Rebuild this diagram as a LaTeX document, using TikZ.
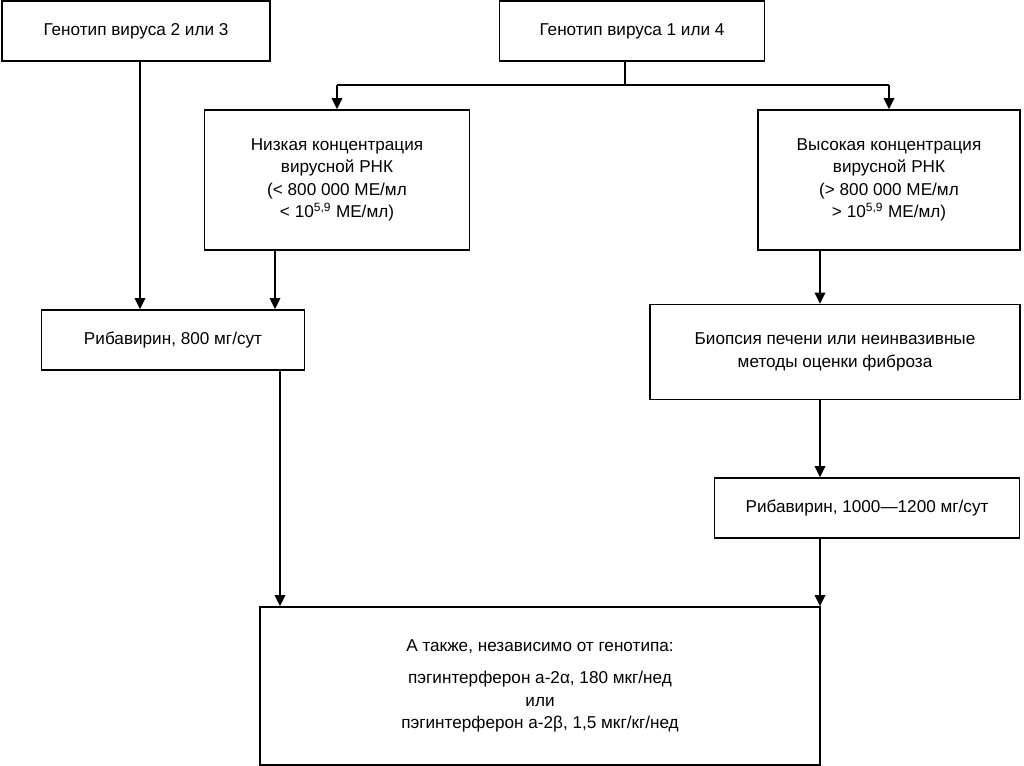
\documentclass[tikz,border=0pt]{standalone}
\usepackage{fontspec}
\setmainfont{Liberation Sans}
\usetikzlibrary{arrows.meta, positioning, calc}

\begin{document}
\begin{tikzpicture}[
    x=0.025cm, y=-0.025cm,
    box/.style={rectangle, draw, line width=1pt, align=center, font=\fontsize{12.2}{16}\selectfont, inner sep=0pt},
    arrow/.style={-{Triangle[length=8pt,width=7.5pt]}, line width=1.1pt}
]
\useasboundingbox (0,0) rectangle (1024,765);

\node[box, minimum width=268*0.025cm, minimum height=60*0.025cm] (geno23) at (136,31) {Генотип вируса 2 или 3};
\node[box, minimum width=265*0.025cm, minimum height=60*0.025cm] (geno14) at (632,31) {Генотип вируса 1 или 4};
\node[box, minimum width=265*0.025cm, minimum height=140*0.025cm] (low) at (337,180)
    {Низкая концентрация\\вирусной РНК\\(< 800 000 МЕ/мл\\< 10\textsuperscript{5,9} МЕ/мл)};
\node[box, minimum width=262*0.025cm, minimum height=140*0.025cm] (high) at (889,180)
    {Высокая концентрация\\вирусной РНК\\(> 800 000 МЕ/мл\\> 10\textsuperscript{5,9} МЕ/мл)};
\node[box, minimum width=263*0.025cm, minimum height=60*0.025cm] (riba800) at (173,340) {Рибавирин, 800 мг/сут};
\node[box, minimum width=370*0.025cm, minimum height=95*0.025cm] (biopsy) at (835,352)
    {Биопсия печени или неинвазивные\\методы оценки фиброза};
\node[box, minimum width=305*0.025cm, minimum height=60*0.025cm] (riba1000) at (867,508) {Рибавирин, 1000---1200 мг/сут};
\node[box, minimum width=560*0.025cm, minimum height=158*0.025cm] (common) at (540,686)
    {А также, независимо от генотипа:\\[7pt]пэгинтерферон а-2α, 180 мкг/нед\\или\\пэгинтерферон а-2β, 1,5 мкг/кг/нед};

% junction and drop points
\coordinate (split) at (625,85);
\coordinate (lowdrop) at (275,0);
\coordinate (ribadrop) at (280,0);
\coordinate (rightdrop) at (820,0);
\coordinate (leftdrop) at (140,0);

\draw[line width=1.1pt] (geno14.south -| split) -- (split);
\draw[line width=1.1pt] (split -| low.north) -- (split -| high.north);
\draw[arrow] (split -| low.north) -- (low.north);
\draw[arrow] (split -| high.north) -- (high.north);
\draw[arrow] (geno23.south -| leftdrop) -- (leftdrop |- riba800.north);
\draw[arrow] (low.south -| lowdrop) -- (lowdrop |- riba800.north);
\draw[arrow] (high.south -| rightdrop) -- (rightdrop |- biopsy.north);
\draw[arrow] (biopsy.south -| rightdrop) -- (rightdrop |- riba1000.north);
\draw[arrow] (riba800.south -| ribadrop) -- (ribadrop |- common.north);
\draw[arrow] (riba1000.south -| rightdrop) -- (rightdrop |- common.north);

\end{tikzpicture}
\end{document}
